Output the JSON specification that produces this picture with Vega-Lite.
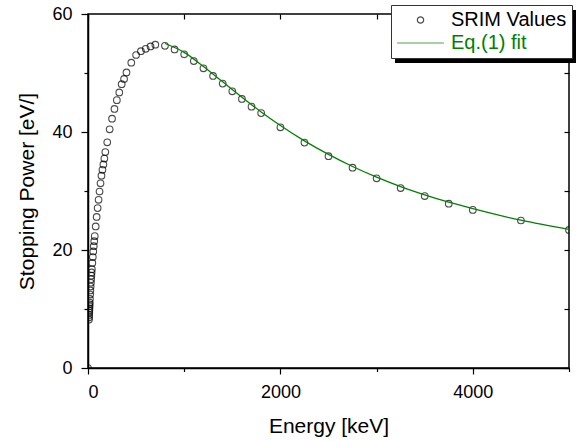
{
  "$schema": "https://vega.github.io/schema/vega-lite/v6.json",
  "width": 481,
  "height": 354,
  "autosize": {"type": "none"},
  "padding": {"left": 88, "top": 14, "right": 16, "bottom": 73},
  "background": "white",
  "config": {
    "font": "Liberation Sans",
    "view": {"stroke": "black", "strokeWidth": 1.5},
    "axis": {"grid": false, "domainColor": "black", "tickColor": "black", "labelColor": "black", "titleColor": "black", "labelFont": "Liberation Sans", "titleFont": "Liberation Sans", "titleFontWeight": "normal", "domainWidth": 1.5, "tickWidth": 1.2, "labelFontSize": 18, "titleFontSize": 21}
  },
  "datasets": {
    "srim": [
      {"E": 0, "S": 0, "series": "SRIM Values"},
      {"E": 10, "S": 8.2, "series": "SRIM Values"},
      {"E": 11, "S": 8.6, "series": "SRIM Values"},
      {"E": 12, "S": 9.0, "series": "SRIM Values"},
      {"E": 13, "S": 9.4, "series": "SRIM Values"},
      {"E": 14, "S": 9.75, "series": "SRIM Values"},
      {"E": 15, "S": 10.1, "series": "SRIM Values"},
      {"E": 16, "S": 10.45, "series": "SRIM Values"},
      {"E": 17, "S": 10.8, "series": "SRIM Values"},
      {"E": 18, "S": 11.1, "series": "SRIM Values"},
      {"E": 20, "S": 11.7, "series": "SRIM Values"},
      {"E": 22.5, "S": 12.45, "series": "SRIM Values"},
      {"E": 25, "S": 13.15, "series": "SRIM Values"},
      {"E": 27.5, "S": 13.8, "series": "SRIM Values"},
      {"E": 30, "S": 14.45, "series": "SRIM Values"},
      {"E": 32.5, "S": 15.05, "series": "SRIM Values"},
      {"E": 35, "S": 15.65, "series": "SRIM Values"},
      {"E": 37.5, "S": 16.2, "series": "SRIM Values"},
      {"E": 40, "S": 16.75, "series": "SRIM Values"},
      {"E": 45, "S": 17.8, "series": "SRIM Values"},
      {"E": 50, "S": 18.8, "series": "SRIM Values"},
      {"E": 55, "S": 19.75, "series": "SRIM Values"},
      {"E": 60, "S": 20.65, "series": "SRIM Values"},
      {"E": 65, "S": 21.5, "series": "SRIM Values"},
      {"E": 70, "S": 22.35, "series": "SRIM Values"},
      {"E": 80, "S": 24.0, "series": "SRIM Values"},
      {"E": 90, "S": 25.6, "series": "SRIM Values"},
      {"E": 100, "S": 27.1, "series": "SRIM Values"},
      {"E": 110, "S": 28.5, "series": "SRIM Values"},
      {"E": 120, "S": 29.9, "series": "SRIM Values"},
      {"E": 130, "S": 31.3, "series": "SRIM Values"},
      {"E": 140, "S": 32.6, "series": "SRIM Values"},
      {"E": 150, "S": 33.6, "series": "SRIM Values"},
      {"E": 160, "S": 34.5, "series": "SRIM Values"},
      {"E": 170, "S": 35.5, "series": "SRIM Values"},
      {"E": 180, "S": 36.6, "series": "SRIM Values"},
      {"E": 200, "S": 38.25, "series": "SRIM Values"},
      {"E": 225, "S": 40.45, "series": "SRIM Values"},
      {"E": 250, "S": 42.25, "series": "SRIM Values"},
      {"E": 275, "S": 43.9, "series": "SRIM Values"},
      {"E": 300, "S": 45.4, "series": "SRIM Values"},
      {"E": 325, "S": 46.7, "series": "SRIM Values"},
      {"E": 350, "S": 48.1, "series": "SRIM Values"},
      {"E": 375, "S": 49.0, "series": "SRIM Values"},
      {"E": 400, "S": 50.1, "series": "SRIM Values"},
      {"E": 450, "S": 51.75, "series": "SRIM Values"},
      {"E": 500, "S": 53.05, "series": "SRIM Values"},
      {"E": 550, "S": 53.7, "series": "SRIM Values"},
      {"E": 600, "S": 54.1, "series": "SRIM Values"},
      {"E": 650, "S": 54.5, "series": "SRIM Values"},
      {"E": 700, "S": 54.8, "series": "SRIM Values"},
      {"E": 800, "S": 54.6, "series": "SRIM Values"},
      {"E": 900, "S": 54.0, "series": "SRIM Values"},
      {"E": 1000, "S": 53.17, "series": "SRIM Values"},
      {"E": 1100, "S": 52.03, "series": "SRIM Values"},
      {"E": 1200, "S": 50.8, "series": "SRIM Values"},
      {"E": 1300, "S": 49.5, "series": "SRIM Values"},
      {"E": 1400, "S": 48.2, "series": "SRIM Values"},
      {"E": 1500, "S": 46.9, "series": "SRIM Values"},
      {"E": 1600, "S": 45.6, "series": "SRIM Values"},
      {"E": 1700, "S": 44.3, "series": "SRIM Values"},
      {"E": 1800, "S": 43.2, "series": "SRIM Values"},
      {"E": 2000, "S": 40.8, "series": "SRIM Values"},
      {"E": 2250, "S": 38.2, "series": "SRIM Values"},
      {"E": 2500, "S": 35.9, "series": "SRIM Values"},
      {"E": 2750, "S": 33.95, "series": "SRIM Values"},
      {"E": 3000, "S": 32.15, "series": "SRIM Values"},
      {"E": 3250, "S": 30.5, "series": "SRIM Values"},
      {"E": 3500, "S": 29.15, "series": "SRIM Values"},
      {"E": 3750, "S": 27.85, "series": "SRIM Values"},
      {"E": 4000, "S": 26.8, "series": "SRIM Values"},
      {"E": 4500, "S": 25.0, "series": "SRIM Values"},
      {"E": 5000, "S": 23.4, "series": "SRIM Values"}
    ],
    "fit": [
      {"E": 800, "S": 55.0, "series": "Eq.(1) fit"},
      {"E": 1000, "S": 53.5, "series": "Eq.(1) fit"},
      {"E": 1200, "S": 51.1, "series": "Eq.(1) fit"},
      {"E": 1400, "S": 48.5, "series": "Eq.(1) fit"},
      {"E": 1600, "S": 45.9, "series": "Eq.(1) fit"},
      {"E": 1800, "S": 43.4, "series": "Eq.(1) fit"},
      {"E": 2000, "S": 41.1, "series": "Eq.(1) fit"},
      {"E": 2250, "S": 38.5, "series": "Eq.(1) fit"},
      {"E": 2500, "S": 36.2, "series": "Eq.(1) fit"},
      {"E": 2750, "S": 34.15, "series": "Eq.(1) fit"},
      {"E": 3000, "S": 32.35, "series": "Eq.(1) fit"},
      {"E": 3250, "S": 30.75, "series": "Eq.(1) fit"},
      {"E": 3500, "S": 29.35, "series": "Eq.(1) fit"},
      {"E": 3750, "S": 28.1, "series": "Eq.(1) fit"},
      {"E": 4000, "S": 27.0, "series": "Eq.(1) fit"},
      {"E": 4500, "S": 25.05, "series": "Eq.(1) fit"},
      {"E": 5000, "S": 23.5, "series": "Eq.(1) fit"}
    ]
  },
  "layer": [
    {
      "data": {"name": "srim"},
      "mark": {"type": "point", "filled": false, "size": 44, "strokeWidth": 1.1, "clip": true},
      "encoding": {
        "x": {"field": "E", "type": "quantitative", "scale": {"domain": [0, 5000], "nice": false},
          "axis": {"orient": "bottom", "values": [0, 2000, 4000], "format": "d", "title": "Energy [keV]", "tickSize": 6, "labelPadding": 9, "titlePadding": 14, "zindex": 0}},
        "y": {"field": "S", "type": "quantitative", "scale": {"domain": [0, 60], "nice": false},
          "axis": {"orient": "left", "values": [0, 20, 40, 60], "title": "Stopping Power [eV/]", "tickSize": 7, "labelPadding": 9, "titlePadding": 14, "zindex": 0}},
        "color": {"field": "series", "type": "nominal",
          "scale": {"domain": ["SRIM Values", "Eq.(1) fit"], "range": ["#000000", "#008000"]},
          "legend": {"orient": "none", "legendX": 303, "legendY": -9, "title": null, "fillColor": "white", "strokeColor": "#333333", "padding": 5,
            "labelFontSize": 20, "labelFont": "Liberation Sans", "symbolSize": 40, "symbolOffset": 14.5, "labelOffset": 20.5, "rowPadding": 3, "zindex": 2, "symbolStrokeWidth": 1.2,
            "symbolType": {"expr": "datum.value === 'Eq.(1) fit' ? 'M-7.4,0H7.4' : 'circle'"},
            "labelColor": {"expr": "datum.value === 'Eq.(1) fit' ? '#008000' : '#000000'"}}}
      }
    },
    {
      "data": {"name": "fit"},
      "mark": {"type": "line", "strokeWidth": 1.3, "interpolate": "monotone"},
      "encoding": {
        "x": {"field": "E", "type": "quantitative",
          "axis": {"orient": "bottom", "values": [1000, 3000, 5000], "labels": false, "title": null, "domain": false, "tickSize": 3.5, "zindex": 0}},
        "y": {"field": "S", "type": "quantitative",
          "axis": {"orient": "left", "values": [10, 30, 50], "labels": false, "title": null, "domain": false, "tickSize": 4, "zindex": 0}},
        "color": {"field": "series", "type": "nominal"}
      }
    },
    {
      "data": {"name": "fit"},
      "mark": {"type": "point", "size": 1, "fillOpacity": 0, "strokeOpacity": 0},
      "encoding": {
        "x": {"field": "E", "type": "quantitative",
          "axis": {"orient": "top", "values": [0, 1000, 2000, 3000, 4000, 5000], "labels": false, "title": null, "domain": false, "tickSize": -5, "zindex": 0}},
        "y": {"field": "S", "type": "quantitative",
          "axis": {"orient": "right", "values": [0, 10, 20, 30, 40, 50, 60], "labels": false, "title": null, "domain": false, "tickSize": -5, "zindex": 0}},
        "fill": {"field": "S", "type": "quantitative",
          "scale": {"range": ["#000000", "#000000"]},
          "legend": {"orient": "none", "legendX": 307, "legendY": -4, "direction": "horizontal", "gradientLength": 181, "gradientThickness": 53, "title": null, "padding": 0, "labelExpr": "''", "gradientStrokeWidth": 0, "zindex": 1,
            "encode": {"gradient": {"opacity": {"value": 1}}}}}
      }
    }
  ],
  "resolve": {"axis": {"x": "independent", "y": "independent"}}
}
